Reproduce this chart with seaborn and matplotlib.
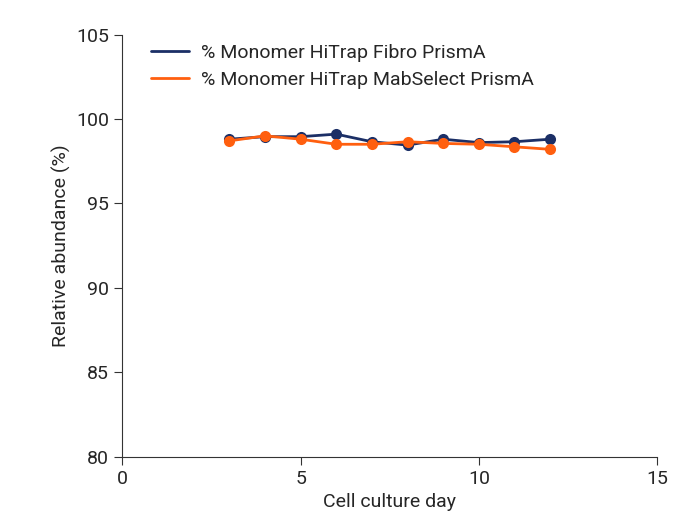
import matplotlib
matplotlib.use("Agg")
import matplotlib.pyplot as plt
import seaborn as sns
import pandas as pd

days = [3, 4, 5, 6, 7, 8, 9, 10, 11, 12]
fibro = [98.8, 98.95, 98.95, 99.1, 98.65, 98.45, 98.8, 98.6, 98.65, 98.8]
mabselect = [98.7, 99.0, 98.8, 98.5, 98.5, 98.65, 98.55, 98.5, 98.35, 98.2]
names = ["% Monomer HiTrap Fibro PrismA", "% Monomer HiTrap MabSelect PrismA"]
colors = ["#1b2f66", "#ff5f0f"]

df = pd.concat([
    pd.DataFrame({"day": days, "val": fibro, "series": names[0]}),
    pd.DataFrame({"day": days, "val": mabselect, "series": names[1]}),
])

sns.set_style("ticks")
plt.rcParams['font.family'] = ['Roboto', 'DejaVu Sans']
fig, ax = plt.subplots(figsize=(6.99, 5.31), dpi=100)
fig.subplots_adjust(left=0.175, right=0.94, top=0.935, bottom=0.14)
sns.lineplot(data=df, x="day", y="val", hue="series", palette=colors, marker="o",
             markersize=8, markeredgewidth=0, linewidth=2, ax=ax)
ax.set_xlim(0, 15)
ax.set_ylim(80, 105)
ax.set_xticks([0, 5, 10, 15])
ax.set_yticks([80, 85, 90, 95, 100, 105])
ax.tick_params(labelsize=14, direction="out", length=6, color="#333")
ax.set_xlabel("Cell culture day", fontsize=14)
ax.set_ylabel("Relative abundance (%)", fontsize=14)
sns.despine(ax=ax)
ax.spines['left'].set_color("#333")
ax.spines['bottom'].set_color("#333")
leg = ax.legend(frameon=False, fontsize=14, loc="upper left", bbox_to_anchor=(0.02, 1.02),
                handlelength=2, handletextpad=0.6)
for h in leg.legend_handles:
    h.set_marker("")
plt.savefig("out.png", dpi=100)
